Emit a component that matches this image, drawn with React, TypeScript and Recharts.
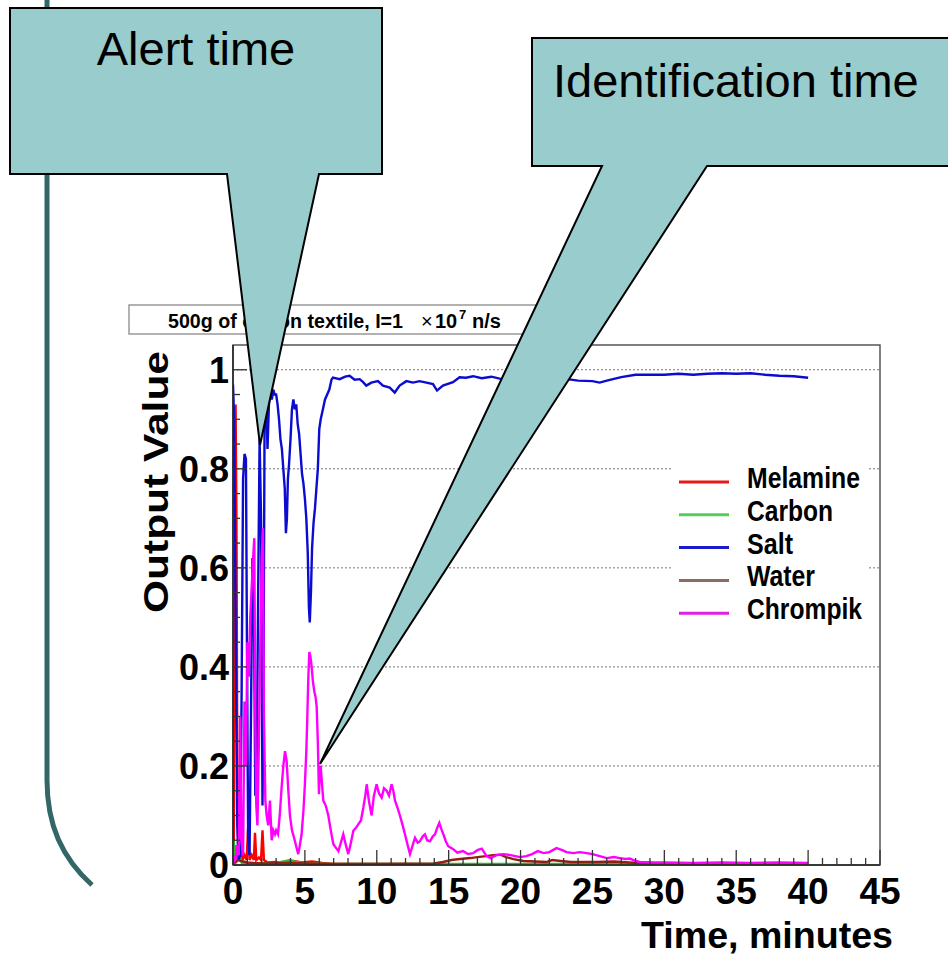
import React from "react";
import { LineChart, Line, XAxis, YAxis, ReferenceLine, ReferenceArea } from "recharts";

// Output value of each material vs. time (minutes), as [t, value]
const MELAMINE: [number, number][] = [
  [0, 0], [0.05, 0.02], [0.12, 0.45], [0.18, 0.93], [0.24, 0.7], [0.3, 0.2], [0.36, 0.03],
  [0.45, 0.01], [0.55, 0.03], [0.65, 0.01], [0.8, 0.02], [0.95, 0.01], [1.05, 0.075],
  [1.15, 0.01], [1.3, 0.02], [1.45, 0.01], [1.53, 0.065], [1.62, 0.01], [1.8, 0.015],
  [1.95, 0.01], [2.05, 0.07], [2.15, 0.01], [2.4, 0.005], [3, 0.006], [3.5, 0.004],
  [4.2, 0.008], [4.8, 0.005], [5.5, 0.007], [6.2, 0.004], [7, 0.002], [10, 0.002],
  [15, 0.001], [20, 0.001], [30, 0.001], [40, 0.001],
];

const CARBON: [number, number][] = [
  [0, 0], [0.05, 0.05], [0.1, 0.02], [0.2, 0.04], [0.3, 0.01], [0.45, 0.02], [0.6, 0.005],
  [1, 0.004], [2, 0.003], [3, 0.004], [3.7, 0.008], [4, 0.01], [4.4, 0.006], [5, 0.003],
  [7, 0.002], [10, 0.002], [15, 0.002], [20, 0.002], [25, 0.002], [30, 0.002], [35, 0.002],
  [40, 0.002],
];

const SALT: [number, number][] = [
  [0, 0.97], [0.08, 0.9], [0.15, 0.62], [0.22, 0.35], [0.3, 0.08], [0.38, 0.01], [0.5, 0.02],
  [0.6, 0.35], [0.7, 0.78], [0.8, 0.83], [0.9, 0.82], [0.97, 0.45], [1.05, 0.06], [1.15, 0.02],
  [1.25, 0.3], [1.35, 0.62], [1.45, 0.55], [1.55, 0.14], [1.65, 0.2], [1.75, 0.55],
  [1.85, 0.86], [1.95, 0.7], [2.05, 0.12], [2.12, 0.35], [2.2, 0.93], [2.3, 0.95],
  [2.4, 0.84], [2.5, 0.93], [2.6, 0.96], [2.7, 0.94], [2.8, 0.96], [2.9, 0.95], [3.0, 0.95],
  [3.1, 0.93], [3.2, 0.9], [3.3, 0.86], [3.4, 0.84], [3.5, 0.8], [3.6, 0.76], [3.68, 0.67],
  [3.75, 0.7], [3.82, 0.78], [3.9, 0.81], [4.0, 0.86], [4.1, 0.92], [4.2, 0.94], [4.3, 0.92],
  [4.4, 0.93], [4.5, 0.89], [4.6, 0.87], [4.7, 0.83], [4.8, 0.79], [4.9, 0.77], [5.0, 0.74],
  [5.1, 0.7], [5.2, 0.63], [5.28, 0.52], [5.34, 0.49], [5.42, 0.55], [5.5, 0.64], [5.6, 0.69],
  [5.7, 0.72], [5.8, 0.76], [5.9, 0.8], [6.0, 0.88], [6.1, 0.9], [6.25, 0.92], [6.4, 0.94],
  [6.55, 0.95], [6.7, 0.96], [6.85, 0.98], [6.95, 0.984], [7.42, 0.981], [7.8, 0.986],
  [8.11, 0.988], [8.46, 0.98], [8.81, 0.981], [9.05, 0.975], [9.27, 0.968], [9.62, 0.974],
  [10.08, 0.977], [10.43, 0.968], [10.9, 0.964], [11.25, 0.954], [11.59, 0.968],
  [12.06, 0.977], [12.52, 0.974], [12.98, 0.977], [13.45, 0.974], [13.91, 0.971],
  [14.19, 0.958], [14.6, 0.968], [15.3, 0.975], [15.76, 0.985], [16.2, 0.984],
  [16.7, 0.987], [17.3, 0.983], [17.97, 0.986], [18.55, 0.982], [19.2, 0.98], [20, 0.98],
  [21, 0.978], [22, 0.98], [23, 0.982], [24, 0.978], [25, 0.977], [25.5, 0.974], [26, 0.978],
  [27, 0.985], [28, 0.99], [29, 0.99], [30, 0.99], [31, 0.992], [32, 0.99], [33, 0.992],
  [34, 0.993], [35, 0.992], [36, 0.993], [37, 0.99], [38, 0.988], [39, 0.987], [40, 0.984],
];

const WATER: [number, number][] = [
  [0, 0], [0.3, 0.01], [1, 0.005], [2, 0.003], [4, 0.004], [6, 0.002], [10, 0.002],
  [14, 0.003], [14.6, 0.006], [15.2, 0.01], [15.8, 0.012], [16.5, 0.014], [17, 0.016],
  [17.6, 0.018], [18.1, 0.02], [18.6, 0.021], [19, 0.016], [19.5, 0.012], [20.2, 0.008],
  [21, 0.007], [21.8, 0.006], [22.2, 0.01], [22.8, 0.008], [23.5, 0.006], [25.3, 0.006],
  [26.5, 0.007], [28.1, 0.004], [30, 0.003], [35, 0.003], [40, 0.003],
];

const CHROMPIK: [number, number][] = [
  [0, 0], [0.1, 0.02], [0.2, 0.01], [0.3, 0.04], [0.4, 0.02], [0.5, 0.3], [0.58, 0.05],
  [0.7, 0.02], [0.8, 0.33], [0.9, 0.2], [1.0, 0.45], [1.1, 0.38], [1.2, 0.5], [1.3, 0.56],
  [1.4, 0.62], [1.48, 0.66], [1.55, 0.3], [1.62, 0.12], [1.7, 0.08], [1.8, 0.25], [1.9, 0.45],
  [2.0, 0.62], [2.08, 0.68], [2.15, 0.3], [2.25, 0.13], [2.34, 0.1], [2.45, 0.08],
  [2.57, 0.13], [2.69, 0.05], [2.8, 0.07], [2.92, 0.062], [3.0, 0.07], [3.13, 0.062],
  [3.25, 0.1], [3.38, 0.156], [3.5, 0.2], [3.62, 0.23], [3.73, 0.21], [3.85, 0.15],
  [3.96, 0.1], [4.1, 0.07], [4.2, 0.06], [4.31, 0.048], [4.42, 0.035], [4.54, 0.022],
  [4.65, 0.04], [4.77, 0.062], [4.9, 0.11], [5.0, 0.163], [5.1, 0.23], [5.17, 0.3],
  [5.24, 0.38], [5.31, 0.43], [5.39, 0.42], [5.47, 0.4], [5.56, 0.37], [5.66, 0.35],
  [5.74, 0.34], [5.82, 0.32], [5.9, 0.25], [5.98, 0.143], [6.04, 0.19], [6.1, 0.2],
  [6.2, 0.16], [6.28, 0.13], [6.45, 0.12], [6.63, 0.1], [6.8, 0.07], [6.98, 0.042],
  [7.15, 0.035], [7.33, 0.028], [7.5, 0.045], [7.67, 0.062], [7.85, 0.04], [8.02, 0.022],
  [8.2, 0.045], [8.37, 0.069], [8.55, 0.075], [8.71, 0.082], [8.9, 0.09], [9.06, 0.115],
  [9.2, 0.14], [9.3, 0.163], [9.45, 0.13], [9.64, 0.1], [9.8, 0.14], [9.99, 0.163],
  [10.15, 0.145], [10.34, 0.136], [10.5, 0.155], [10.69, 0.15], [10.85, 0.14], [11.03, 0.163],
  [11.15, 0.15], [11.27, 0.13], [11.45, 0.115], [11.61, 0.1], [11.8, 0.08], [11.96, 0.062],
  [12.15, 0.04], [12.31, 0.022], [12.5, 0.04], [12.66, 0.055], [12.85, 0.045], [13.0, 0.048],
  [13.2, 0.058], [13.35, 0.062], [13.5, 0.05], [13.7, 0.048], [13.9, 0.058], [14.05, 0.062],
  [14.2, 0.075], [14.35, 0.085], [14.5, 0.072], [14.63, 0.062], [14.8, 0.048], [14.97, 0.038],
  [15.32, 0.032], [15.6, 0.025], [16.0, 0.028], [16.35, 0.022], [16.7, 0.024], [17.0, 0.03],
  [17.3, 0.033], [17.64, 0.018], [17.9, 0.014], [18.34, 0.02], [18.8, 0.022], [19.3, 0.02],
  [19.96, 0.016], [20.4, 0.018], [20.8, 0.022], [21.2, 0.028], [21.6, 0.024], [22.0, 0.026],
  [22.5, 0.034], [22.9, 0.03], [23.2, 0.026], [23.7, 0.024], [24.1, 0.026], [24.6, 0.024],
  [25.0, 0.022], [25.5, 0.018], [26.0, 0.014], [26.5, 0.016], [26.9, 0.014], [27.3, 0.012],
  [27.6, 0.013], [28.0, 0.008], [28.3, 0.006], [29.2, 0.005], [30, 0.005], [32, 0.004],
  [34, 0.005], [36, 0.004], [38, 0.005], [40, 0.004],
];

const SERIES = [
  { name: "Melamine", color: "#ff0000", key: "#e81818", width: 113, points: MELAMINE },
  { name: "Carbon", color: "#2fb52f", key: "#55cc55", width: 86, points: CARBON },
  { name: "Salt", color: "#0c0cd0", key: "#1a1acc", width: 46, points: SALT },
  { name: "Water", color: "#931e12", key: "#8c6c62", width: 68, points: WATER },
  { name: "Chrompik", color: "#ff00ff", key: "#e020e0", width: 115, points: CHROMPIK },
];

const X_TICKS = Array.from({ length: 46 }, (_, i) => i);
const Y_TICKS = Array.from({ length: 21 }, (_, i) => i * 0.05);
const GRID_Y = [0.2, 0.4, 0.6, 0.8, 1];

const W = 948;
const H = 958;
const FONT = '"Liberation Sans", Arial, Helvetica, sans-serif';
const TEAL = "#99cccc";

function XTick(props: any) {
  const { x, y, payload } = props;
  const v = payload.value as number;
  const major = v % 5 === 0;
  return (
    <g>
      <line x1={x} x2={x} y1={y} y2={y - (major ? 15 : 7)} stroke="#333" strokeWidth={1.3} />
      {major && (
        <text x={x} y={y + 39} textAnchor="middle" fontFamily={FONT} fontWeight="bold" fontSize={37} fill="#000">
          {v}
        </text>
      )}
    </g>
  );
}

function YTick(props: any) {
  const { x, y, payload } = props;
  const v = payload.value as number;
  const major = Math.round(v * 100) % 20 === 0;
  const label = Math.round(v * 10) / 10;
  return (
    <g>
      <line x1={x} x2={x + (major ? 14 : 7)} y1={y} y2={y} stroke="#333" strokeWidth={1.3} />
      {major && (
        <text x={x - 4} y={y} dy="0.36em" textAnchor="end" fontFamily={FONT} fontWeight="bold" fontSize={36} fill="#000">
          {label}
        </text>
      )}
    </g>
  );
}

export default function App() {
  return (
    <div style={{ position: "absolute", left: 0, top: 0, width: W, height: H, background: "#fff", fontFamily: FONT }}>
      <LineChart width={W} height={H} margin={{ top: 345, right: 68, bottom: 53, left: 153 }}>
        <ReferenceArea x1={0} x2={45} y1={0} y2={1.05} fill="#fff" stroke="#555" strokeWidth={1.5} ifOverflow="visible" />
        {GRID_Y.map((v) => (
          <ReferenceLine key={v} y={v} stroke="#777" strokeDasharray="2 2" strokeWidth={1} />
        ))}
        <XAxis
          dataKey="t"
          type="number"
          domain={[0, 45]}
          ticks={X_TICKS}
          interval={0}
          height={40}
          tickSize={0}
          tickMargin={0}
          tickLine={false}
          axisLine={{ stroke: "#222", strokeWidth: 1.5 }}
          tick={XTick}
          allowDataOverflow
        />
        <YAxis
          type="number"
          domain={[0, 1.05]}
          ticks={Y_TICKS}
          interval={0}
          width={80}
          tickSize={0}
          tickMargin={0}
          tickLine={false}
          axisLine={{ stroke: "#222", strokeWidth: 1.5 }}
          tick={YTick}
          allowDataOverflow
        />
        {SERIES.map((s) => (
          <Line
            key={s.name}
            data={s.points.map(([t, v]) => ({ t, v }))}
            dataKey="v"
            type="linear"
            stroke={s.color}
            strokeWidth={2.4}
            dot={false}
            activeDot={false}
            isAnimationActive={false}
          />
        ))}
      </LineChart>

      <svg width={W} height={H} style={{ position: "absolute", left: 0, top: 0, pointerEvents: "none" }}>
        {/* slide border */}
        <path d="M47 0 V780 C47 825 62 858 92 885" stroke="#336666" strokeWidth={5} fill="none" />

        {/* plot title pave */}
        <rect x={129} y={305} width={432} height={29} fill="#fff" stroke="#999" strokeWidth={1.5} />
        <text x={168} y={328} fontFamily={FONT} fontWeight="bold" fontSize={20} textLength={235} lengthAdjust="spacingAndGlyphs">
          500g of cotton textile, I=1
        </text>
        <text x={421} y={328} fontFamily={FONT} fontSize={20}>×</text>
        <text x={435} y={328} fontFamily={FONT} fontWeight="bold" fontSize={20}>10</text>
        <text x={459} y={319} fontFamily={FONT} fontWeight="bold" fontSize={13}>7</text>
        <text x={472} y={328} fontFamily={FONT} fontWeight="bold" fontSize={20}>n/s</text>

        {/* axis titles */}
        <text
          transform="translate(168 482) rotate(-90)"
          textAnchor="middle"
          fontFamily={FONT}
          fontWeight="bold"
          fontSize={35}
          textLength={262}
          lengthAdjust="spacingAndGlyphs"
        >
          Output Value
        </text>
        <text x={893} y={948} textAnchor="end" fontFamily={FONT} fontWeight="bold" fontSize={36} textLength={252} lengthAdjust="spacingAndGlyphs">
          Time, minutes
        </text>

        {/* legend */}
        <rect x={673} y={460} width={194} height={176} fill="#fff" />
        {SERIES.map((s, i) => {
          const cy = 482 + i * 32.8;
          return (
            <g key={s.name}>
              <line x1={679} x2={729} y1={cy} y2={cy} stroke={s.key} strokeWidth={3} />
              <text x={747} y={cy + 6} fontFamily={FONT} fontWeight="bold" fontSize={29} textLength={s.width} lengthAdjust="spacingAndGlyphs">
                {s.name}
              </text>
            </g>
          );
        })}

        {/* callouts */}
        <path d="M10 8 H382 V174 H319 L260 445 L227 174 H10 Z" fill={TEAL} stroke="#000" strokeWidth={2} />
        <text x={196} y={65} textAnchor="middle" fontFamily={FONT} fontSize={47}>Alert time</text>
        <path d="M532 38 H960 V166 H707 L320 764 L602 166 H532 Z" fill={TEAL} stroke="#000" strokeWidth={2} />
        <text x={553} y={97} fontFamily={FONT} fontSize={47}>Identification time</text>
      </svg>
    </div>
  );
}
